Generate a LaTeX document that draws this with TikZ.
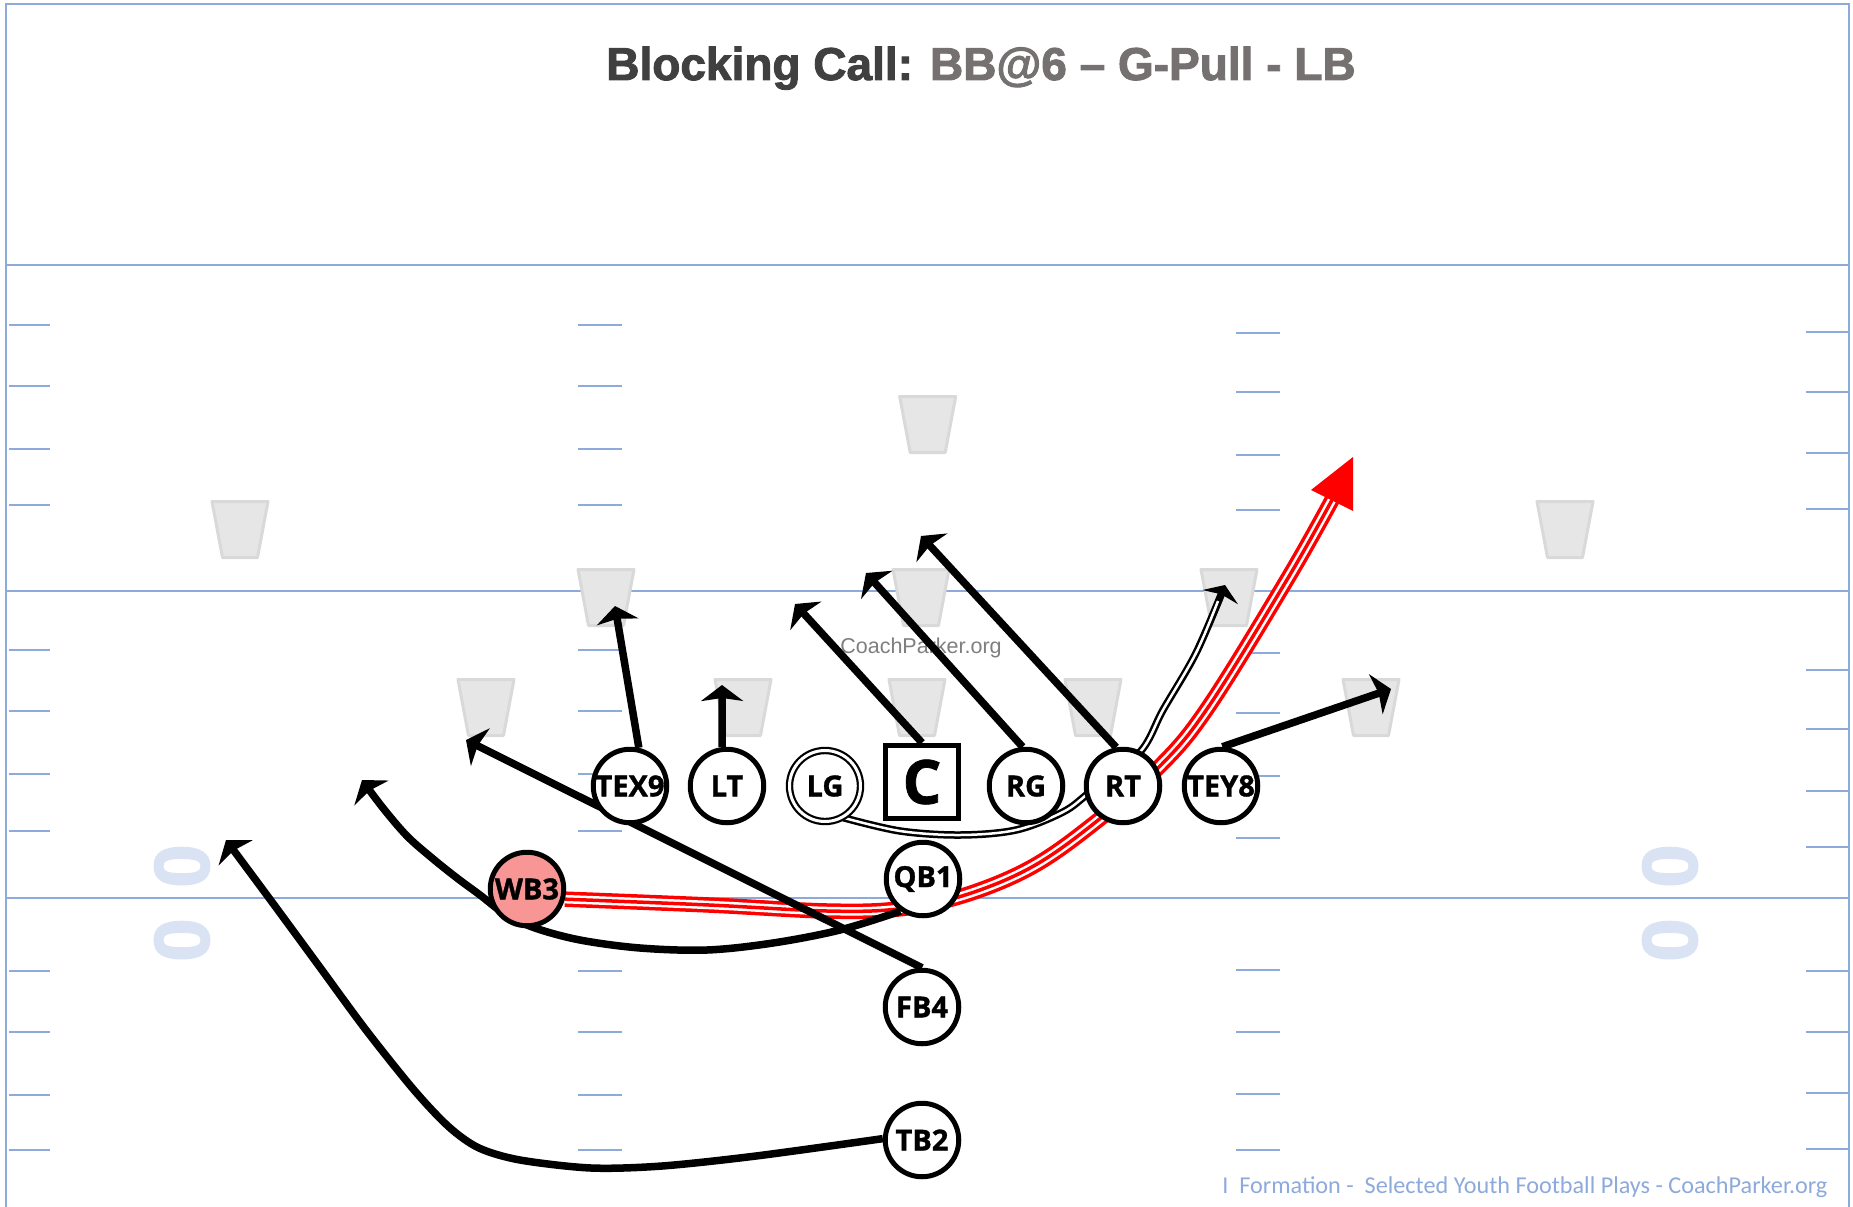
\documentclass[tikz,border=0pt]{standalone}
\usepackage{fontspec}
\setmainfont{Liberation Sans}
\newfontfamily\lblfont{Open Sans}[FakeBold=1.2]
\newfontfamily\calfont{Carlito}
\newfontfamily\titlefont{Liberation Sans}[FakeBold=2]
\usetikzlibrary{arrows.meta}
\definecolor{fieldblue}{RGB}{142,170,219}
\definecolor{numblue}{RGB}{218,227,243}
\definecolor{trapfill}{RGB}{231,230,230}
\definecolor{trapline}{RGB}{217,217,217}
\definecolor{titledark}{RGB}{64,64,64}
\definecolor{titlegray}{RGB}{118,113,113}
\definecolor{wbfill}{RGB}{248,150,150}
\definecolor{wmgray}{RGB}{127,127,127}
\pgfdeclarelayer{field}
\pgfdeclarelayer{links}
\pgfsetlayers{field,links,main}
\begin{document}
\begin{tikzpicture}[x=1pt,y=-1pt,
  player/.style={circle, draw=black, line width=5pt, fill=white, minimum size=73.5pt, inner sep=0pt, font=\lblfont\bfseries\fontsize{29pt}{29pt}\selectfont},
  pulled/.style={player, double=white, double distance=3pt, line width=2.2pt, minimum size=71pt},
  centerbox/.style={rectangle, draw=black, line width=5pt, fill=white, minimum size=73.5pt, inner sep=0pt, font=\lblfont\bfseries\fontsize{61pt}{61pt}\selectfont},
  fieldline/.style={draw=fieldblue, line width=2pt},
  hashline/.style={draw=fieldblue, line width=1.5pt},
  defender/.style={fill=trapfill, draw=trapline, line width=3pt, line join=round},
  yardnum/.style={rotate=90, text=numblue, inner sep=0pt, font=\titlefont\bfseries\fontsize{78pt}{78pt}\selectfont},
  blockline/.style={draw=black, line width=7.5pt, -{Stealth[length=16pt,width=42pt,inset=3pt]}},
  pullline/.style={draw=black, line width=7.5pt, -{Stealth[length=13pt,width=38pt,inset=3pt]}},
]
\useasboundingbox (0,0) rectangle (1853,1207);

% ---------------- field ----------------
\begin{pgfonlayer}{field}
\fill[white] (0,0) rectangle (1853,1207);
\draw[fieldline, line width=2.5pt] (6,1207) -- (6,4) -- (1849,4) -- (1849,1207);
\foreach \yy in {265,591,898} \draw[fieldline] (6,\yy) -- (1849,\yy);
\foreach \yy in {325,386,449,505,650,711,774,831,971,1032,1095,1150} {
  \draw[hashline] (9,\yy) -- (50,\yy);
  \draw[hashline] (578,\yy) -- (622,\yy);
}
\foreach \yy in {333,392,455,510,653,713,776,838,970,1032,1094,1150}
  \draw[hashline] (1236,\yy) -- (1280,\yy);
\foreach \yy in {332,392,453,509,670,729,791,847,971,1032,1093,1149}
  \draw[hashline] (1806,\yy) -- (1849,\yy);
\node[yardnum] (yl1) at (182,866) {0};
\node[yardnum] (yl2) at (182,940) {0};
\node[yardnum] (yr1) at (1670,866) {0};
\node[yardnum] (yr2) at (1670,940) {0};
\foreach \cx/\ty in {927.7/395, 240/500, 1565/500, 606/568, 921/568, 1229/568, 486/678, 743/678, 917/678, 1093/678, 1371/678}
  \draw[defender] ({\cx-28},{\ty+1.5}) -- ({\cx+28},{\ty+1.5}) -- ({\cx+17.5},{\ty+57.5}) -- ({\cx-17.5},{\ty+57.5}) -- cycle;
\node[text=wmgray, font=\fontsize{21.5pt}{21.5pt}\selectfont] (wm) at (921,648) {CoachParker.org};
\end{pgfonlayer}

% ---------------- title and footer ----------------
\node[anchor=base, font=\titlefont\bfseries\fontsize{46pt}{46pt}\selectfont] (title) at (981,80)
  {\textcolor{titledark}{Blocking Call:} \textcolor{titlegray}{BB@6 – G-Pull - LB}};
\node[anchor=base east, text=fieldblue, font=\calfont\fontsize{24.2pt}{24.2pt}\selectfont] (foot) at (1831,1193)
  {I~ Formation -~ Selected Youth Football Plays - CoachParker.org};

% ---------------- players ----------------
\node[player] (TEX9) at (630,786) {TEX9};
\node[player] (LT) at (727,786) {LT};
\node[pulled] (LG) at (825,786) {LG};
\node[centerbox] (C) at (922,782) {C};
\node[player] (RG) at (1026,786) {RG};
\node[player] (RT) at (1123,786) {RT};
\node[player] (TEY8) at (1221,786) {TEY8};
\node[player] (QB1) at (923,879) {QB1};
\node[player, fill=wbfill] (WB3) at (527,889) {WB3};
\node[player] (FB4) at (922,1007) {FB4};
\node[player] (TB2) at (922,1140) {TB2};

% ---------------- free ends ----------------
\coordinate (c1) at (615,606);
\coordinate (c2) at (722,685);
\coordinate (c3) at (795,604);
\coordinate (c4) at (866,573);
\coordinate (c5) at (921,536);
\coordinate (c6) at (1225,585);
\coordinate (c7) at (466,740);
\coordinate (c8) at (362,780);
\coordinate (c9) at (226,840);
\coordinate (c10) at (1391,689);
\coordinate (redbase) at (1332,500);
\coordinate (redtip) at (1353,457);
\coordinate (redl) at (1311,490);
\coordinate (redr) at (1353,511);

% ---------------- connectors ----------------
\begin{pgfonlayer}{links}
% red triple path of WB3
\draw[red, line width=15.5pt] plot[smooth, tension=0.6] coordinates {(WB3.-15) (709,905) (827,911) (898,909) (962,896) (1030,868) (1092,825) (1160,766) (1209,706) (1288,578) (redbase)};
\draw[white, line width=8.5pt] plot[smooth, tension=0.6] coordinates {(WB3.-15) (709,905) (827,911) (898,909) (962,896) (1030,868) (1092,825) (1160,766) (1209,706) (1288,578) (redbase)};
\draw[red, line width=3.5pt] plot[smooth, tension=0.6] coordinates {(WB3.-15) (709,905) (827,911) (898,909) (962,896) (1030,868) (1092,825) (1160,766) (1209,706) (1288,578) (redbase)};
\fill[red] (redtip) -- (redl) -- (redr) -- cycle;

% LG pull (double line)
\draw[pullline] plot[smooth, tension=0.55] coordinates {(LG.-60) (900,831) (960,835) (1016,830) (1063,812) (1090,792) (1140,752) (1163,710) (1196,653) (c6)};
\draw[white, line width=2.5pt] plot[smooth, tension=0.55] coordinates {(LG.-60) (900,831) (960,835) (1016,830) (1063,812) (1090,792) (1140,752) (1163,710) (1196,653) (1218,601)};

% blocks
\draw[blockline] (TEX9.77) -- (c1);
\draw[blockline] (LT.97) -- (c2);
\draw[blockline] (C.north) -- (c3);
\draw[blockline] (RG.95) -- (c4);
\draw[blockline] (RT.100) -- (c5);
\draw[blockline] (TEY8.88) -- (c10);
\draw[blockline] (FB4.north) -- (c7);

% QB1 / WB3 motion curve
\draw[blockline] plot[smooth, tension=0.55] coordinates {(QB1.235) (840,930) (773,943) (707,950) (640,948) (580,940) (535,928) (505,914) (480,895) (457,878) (432,858) (407,836) (383,808) (c8)};
% TB2 path
\draw[blockline] plot[smooth, tension=0.5] coordinates {(TB2.178) (756,1156) (662,1166) (591,1168) (520,1160) (479,1148) (449,1127) (414,1090) (366,1030) (319,966) (272,902) (c9)};
\end{pgfonlayer}
\end{tikzpicture}
\end{document}
